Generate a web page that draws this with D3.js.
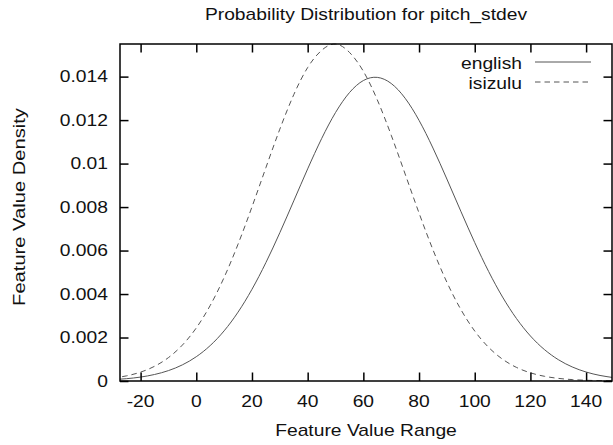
<!DOCTYPE html>
<html>
<head>
<meta charset="utf-8">
<script src="https://cdn.jsdelivr.net/npm/d3@7/dist/d3.min.js"></script>
<style>
  html, body { margin: 0; padding: 0; background: #fff; }
  svg { display: block; }
  text { font-family: "Liberation Sans", Arial, Helvetica, sans-serif; fill: #111; }
</style>
</head>
<body>
<svg id="chart" width="613" height="445"></svg>
<script>
// Sample positions along the feature axis
const featureValues = [-30, -25, -20, -15, -10, -5, 0, 5, 10, 15, 20, 25, 30, 35, 40, 45, 50, 55, 60,
  65, 70, 75, 80, 85, 90, 95, 100, 105, 110, 115, 120, 125, 130, 135, 140, 145, 150];

// Density of pitch_stdev for english speakers
const englishDensity = [0.0000607, 0.0001064, 0.000181, 0.000299, 0.000478, 0.000742, 0.001117,
  0.001630, 0.002307, 0.003168, 0.004218, 0.005446, 0.006820, 0.008283, 0.009756, 0.011145,
  0.012346, 0.013263, 0.013820, 0.013965, 0.013685, 0.013006, 0.011988, 0.010715, 0.009289,
  0.007810, 0.006368, 0.005035, 0.003861, 0.002872, 0.002071, 0.001449, 0.000983, 0.000647,
  0.000413, 0.000255, 0.000153];

// Density of pitch_stdev for isizulu speakers
const isizuluDensity = [0.0001334, 0.0002378, 0.0004084, 0.0006755, 0.0010762, 0.0016515, 0.0024410,
  0.0034754, 0.0047655, 0.0062947, 0.0080084, 0.0098132, 0.0115822, 0.0131673, 0.0144181,
  0.0152068, 0.0154981, 0.0151158, 0.0142461, 0.0129324, 0.0113075, 0.0095232, 0.0077252,
  0.0060357, 0.0045423, 0.0032927, 0.0022989, 0.0015460, 0.0010014, 0.0006247, 0.0003755,
  0.0002173, 0.0001212, 0.0000651, 0.0000337, 0.0000168, 0.0000080];

const seriesNames = ["english", "isizulu"];
const xTickValues = [-20, 0, 20, 40, 60, 80, 100, 120, 140];
const yTickValues = [0, 0.002, 0.004, 0.006, 0.008, 0.01, 0.012, 0.014];
const xDomain = [-27.4, 149.3];
const yDomain = [0, 0.0155];

const titleText = "Probability Distribution for pitch_stdev";
const xLabelText = "Feature Value Range";
const yLabelText = "Feature Value Density";

const svg = d3.select("#chart");
const plot = { left: 120, right: 612, top: 44, bottom: 381 };
const FONT = 15.8;
const STRETCH = 1.22;
const TICK = 8.5;
const curveColor = "#555";

const x = d3.scaleLinear().domain(xDomain).range([plot.left, plot.right]);
const y = d3.scaleLinear().domain(yDomain).range([plot.bottom, plot.top]);

function label(g, str, px, py, anchor, extra) {
  return g.append("text")
    .attr("transform", `translate(${px},${py}) ${extra || ""} scale(${STRETCH},1)`)
    .attr("text-anchor", anchor)
    .attr("font-size", FONT)
    .text(str);
}

// Curves, clipped to the plot frame
svg.append("clipPath").attr("id", "plotClip")
  .append("rect")
  .attr("x", plot.left).attr("y", plot.top - 2)
  .attr("width", plot.right - plot.left).attr("height", plot.bottom - plot.top + 2);

const series = [
  { name: seriesNames[0], values: englishDensity, dash: null },
  { name: seriesNames[1], values: isizuluDensity, dash: "5.5,4" }
];

const line = d3.line()
  .x((d, i) => x(featureValues[i]))
  .y(d => y(d))
  .curve(d3.curveNatural);

const curves = svg.append("g").attr("clip-path", "url(#plotClip)");
series.forEach(s => {
  curves.append("path")
    .datum(s.values)
    .attr("fill", "none")
    .attr("stroke", curveColor)
    .attr("stroke-width", 1)
    .attr("stroke-dasharray", s.dash)
    .attr("d", line);
});

// Axes: inward ticks on all four sides, labels on left and bottom
const bottomAxis = d3.axisBottom(x).tickValues(xTickValues).tickSize(-TICK).tickFormat("");
const topAxis = d3.axisTop(x).tickValues(xTickValues).tickSize(-TICK).tickFormat("");
const leftAxis = d3.axisLeft(y).tickValues(yTickValues).tickSize(-TICK).tickFormat("");
const rightAxis = d3.axisRight(y).tickValues(yTickValues).tickSize(-TICK).tickFormat("");

function styleAxis(g) {
  g.select(".domain").remove();
  g.selectAll(".tick line").attr("stroke", "#000").attr("stroke-width", 1.5);
}
svg.append("g").attr("transform", `translate(0,${plot.bottom})`).call(bottomAxis).call(styleAxis);
svg.append("g").attr("transform", `translate(0,${plot.top})`).call(topAxis).call(styleAxis);
svg.append("g").attr("transform", `translate(${plot.left},0)`).call(leftAxis).call(styleAxis);
svg.append("g").attr("transform", `translate(${plot.right},0)`).call(rightAxis).call(styleAxis);

// Frame
svg.append("rect")
  .attr("x", plot.left).attr("y", plot.top)
  .attr("width", plot.right - plot.left).attr("height", plot.bottom - plot.top)
  .attr("fill", "none").attr("stroke", "#000").attr("stroke-width", 1.5);

// Tick labels
const labels = svg.append("g");
xTickValues.forEach(v => label(labels, String(v), x(v), 407, "middle"));
const yFmt = v => (v === 0 ? "0" : d3.format("~g")(v));
yTickValues.forEach(v => label(labels, yFmt(v), 108, y(v) + 5.5, "end"));

// Titles
label(labels, titleText, (plot.left + plot.right) / 2, 20, "middle");
label(labels, xLabelText, (plot.left + plot.right) / 2, 435.5, "middle");
labels.append("text")
  .attr("transform", `translate(25,207) rotate(-90) scale(1.26,1)`)
  .attr("text-anchor", "middle")
  .attr("font-size", 16)
  .text(yLabelText);

// Legend
const legend = svg.append("g");
series.forEach((s, i) => {
  const ly = 62 + i * 20;
  label(legend, s.name, 522, ly + 6.5, "end");
  legend.append("line")
    .attr("x1", 535).attr("x2", 591)
    .attr("y1", ly).attr("y2", ly)
    .attr("stroke", curveColor)
    .attr("stroke-width", 1)
    .attr("stroke-dasharray", s.dash);
});
</script>
</body>
</html>
